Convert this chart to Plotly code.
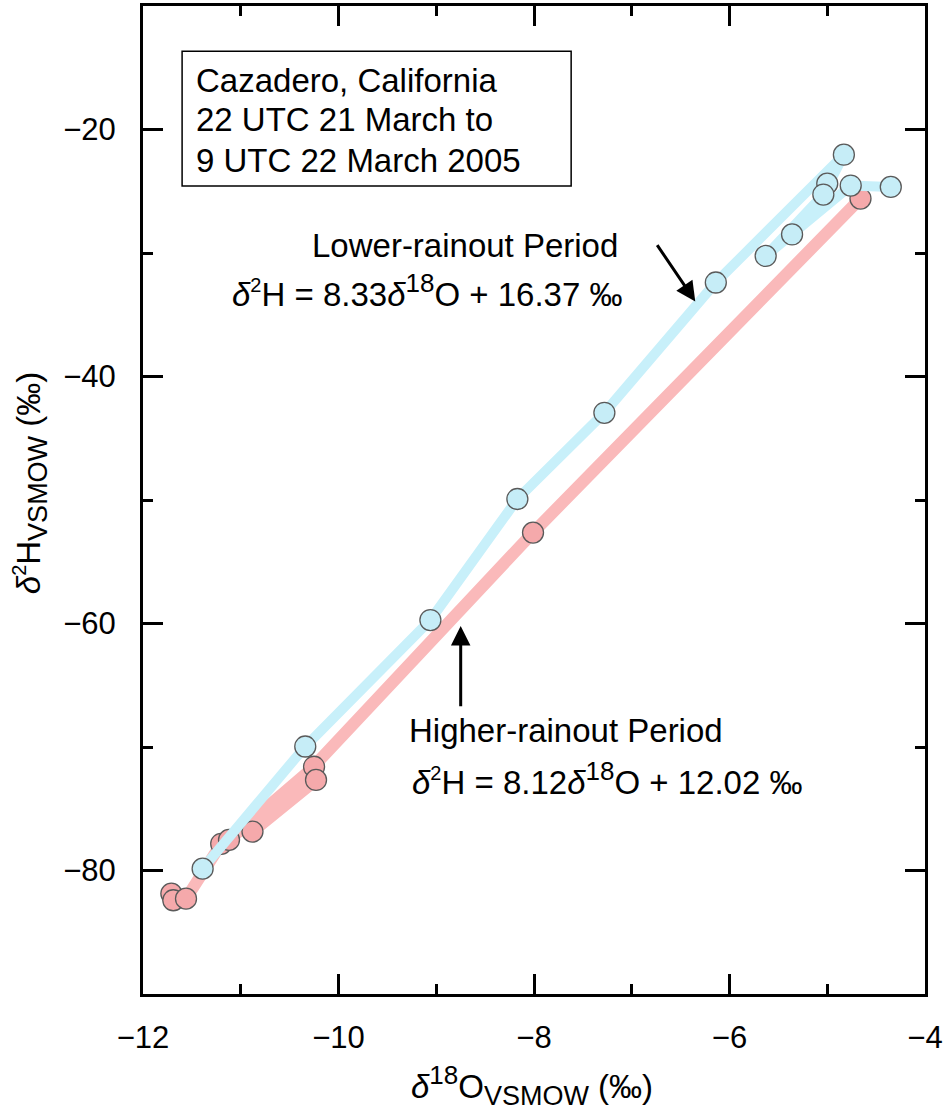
import plotly.graph_objects as go

# Higher-rainout period (pink), in drawing order
high_o18 = [-11.71, -11.69, -11.56, -11.20, -11.12, -10.25, -10.23, -10.88, -8.01, -4.66]
high_h2 = [-81.87, -82.41, -82.28, -77.84, -77.52, -71.60, -72.67, -76.85, -52.64, -25.59]

# Lower-rainout period (blue), in drawing order
low_o18 = [-11.39, -10.34, -9.06, -8.17, -7.28, -6.14, -4.83, -5.00, -5.04, -5.63, -5.36, -4.76, -4.35]
low_h2 = [-79.85, -69.96, -59.72, -49.92, -42.94, -32.39, -22.04, -24.38, -25.27, -30.24, -28.50, -24.54, -24.65]

site_lines = ["Cazadero, California", "22 UTC 21 March to", "9 UTC 22 March 2005"]
site_y = [-16.0, -19.16, -22.47]

FONT = "Liberation Sans, Arial, Helvetica, sans-serif"
PINK_LINE = "#fab9ba"
PINK_FILL = "#f5a9ab"
BLUE_LINE = "#c8f0fa"
BLUE_FILL = "#c6edf7"

fig = go.Figure()

fig.add_trace(go.Scatter(
    x=high_o18, y=high_h2, mode="lines+markers",
    line=dict(color=PINK_LINE, width=12),
    marker=dict(size=21, color=PINK_FILL, line=dict(color="#5a5a5a", width=1.3)),
    showlegend=False,
))
fig.add_trace(go.Scatter(
    x=low_o18, y=low_h2, mode="lines+markers",
    line=dict(color=BLUE_LINE, width=10),
    marker=dict(size=21, color=BLUE_FILL, line=dict(color="#5a5a5a", width=1.3)),
    showlegend=False,
))

axis_common = dict(
    showline=True, linecolor="black", linewidth=3, mirror="ticks",
    ticks="inside", ticklen=20, tickwidth=3, tickcolor="black",
    showgrid=False, zeroline=False, ticklabeloverflow="allow",
    tickfont=dict(family=FONT, size=31, color="black"),
)

fig.update_xaxes(range=[-12, -4], dtick=2, tick0=-12,
                 minor=dict(ticks="inside", dtick=1, ticklen=10, tickwidth=3, tickcolor="black"),
                 ticklabelstandoff=14, **axis_common)
fig.update_yaxes(range=[-90, -10], dtick=20, tick0=-20,
                 minor=dict(ticks="inside", dtick=10, ticklen=10, tickwidth=3, tickcolor="black"),
                 ticklabelstandoff=18, **axis_common)

# site / date box
fig.add_shape(type="rect", xref="x", yref="y", x0=-11.60, x1=-7.62, y0=-24.57, y1=-13.67,
              line=dict(color="black", width=1.5), fillcolor="white", layer="above")
for txt, yy in zip(site_lines, site_y):
    fig.add_annotation(x=-11.48, y=yy, text=txt, showarrow=False, xanchor="left",
                       yanchor="middle", font=dict(family=FONT, size=33, color="black"))

txt_font = dict(family=FONT, size=33, color="black")
SUP2 = "<sup><span style='font-size:20px'>2</span></sup>"
SUP18 = "<sup><span style='font-size:26px'>18</span></sup>"
SUBV = "<sub><span style='font-size:27px'>VSMOW</span></sub>"

fig.add_annotation(x=-8.71, y=-29.41, text="Lower-rainout Period", showarrow=False, font=txt_font)
fig.add_annotation(x=-9.09, y=-33.04,
                   text=f"<i>δ</i>{SUP2}H = 8.33<i>δ</i>{SUP18}O + 16.37 ‰",
                   showarrow=False, font=txt_font)
fig.add_annotation(x=-7.67, y=-68.70, text="Higher-rainout Period", showarrow=False, font=txt_font)
fig.add_annotation(x=-7.25, y=-72.57,
                   text=f"<i>δ</i>{SUP2}H = 8.12<i>δ</i>{SUP18}O + 12.02 ‰",
                   showarrow=False, font=txt_font)

# arrows
fig.add_annotation(x=-6.35, y=-33.92, ax=-6.75, ay=-29.24, axref="x", ayref="y",
                   text="", showarrow=True, arrowhead=2, arrowsize=1.3, arrowwidth=3,
                   arrowcolor="black")
fig.add_annotation(x=-8.75, y=-60.2, ax=-8.75, ay=-66.83, axref="x", ayref="y",
                   text="", showarrow=True, arrowhead=2, arrowsize=1.3, arrowwidth=3,
                   arrowcolor="black")

# axis titles
fig.add_annotation(xref="paper", yref="paper", x=0.497, y=0, yshift=-91,
                   text=f"<i>δ</i>{SUP18}O{SUBV} (‰)", showarrow=False,
                   yanchor="middle", font=txt_font)
fig.add_annotation(xref="paper", yref="paper", x=0, y=0.517, xshift=-113,
                   text=f"<i>δ</i>{SUP2}H{SUBV} (‰)", showarrow=False,
                   textangle=-90, xanchor="center", font=txt_font)

fig.update_layout(
    width=946, height=1113,
    margin=dict(l=143, r=16, t=3, b=119),
    plot_bgcolor="white", paper_bgcolor="white",
    font=dict(family=FONT, color="black"),
)

# the page's default body margin would shift the whole figure by 8px
fig.write_html("out.html", config={"displayModeBar": False},
               post_script="document.body.style.margin='0px';")
